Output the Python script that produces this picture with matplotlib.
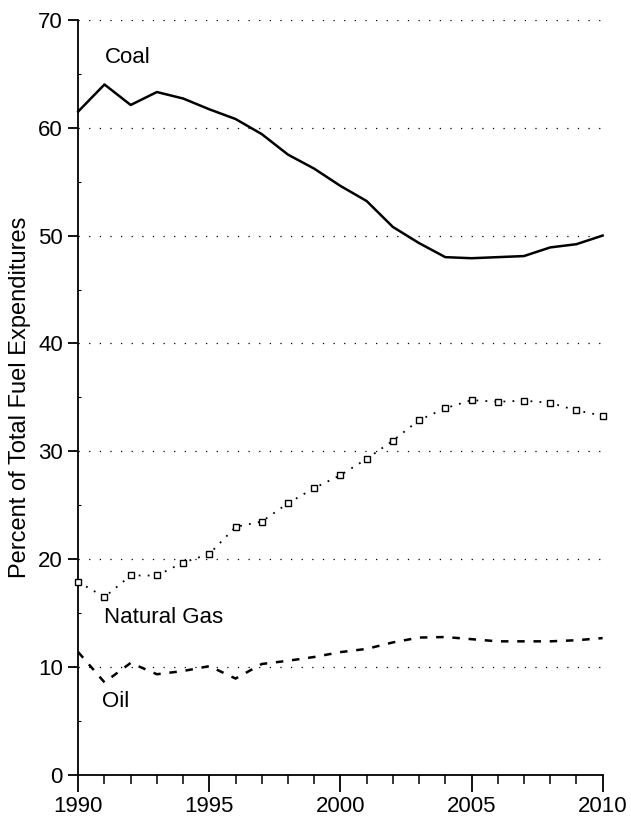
import matplotlib.pyplot as plt
from matplotlib.ticker import MultipleLocator

plt.rcParams["font.family"] = ["Liberation Sans", "DejaVu Sans"]

years = list(range(1990, 2011))
coal = [61.5, 64.0, 62.1, 63.3, 62.7, 61.7, 60.8, 59.4, 57.5, 56.2, 54.6,
        53.2, 50.8, 49.3, 48.0, 47.9, 48.0, 48.1, 48.9, 49.2, 50.0]
gas = [17.9, 16.5, 18.5, 18.5, 19.7, 20.5, 23.0, 23.5, 25.2, 26.6, 27.8,
       29.3, 31.0, 32.9, 34.0, 34.75, 34.6, 34.7, 34.5, 33.8, 33.3]
oil = [11.4, 8.6, 10.4, 9.35, 9.65, 10.1, 8.95, 10.3, 10.6, 10.95, 11.4,
       11.7, 12.3, 12.75, 12.8, 12.6, 12.4, 12.4, 12.4, 12.5, 12.7]
y_ticks = [0, 10, 20, 30, 40, 50, 60, 70]
x_ticks = [1990, 1995, 2000, 2005, 2010]

fig = plt.figure(figsize=(6.31, 8.22), dpi=100)
ax = fig.add_axes([0.124, 0.057, 0.831, 0.919])

ax.plot(years, coal, color="black", lw=1.8, clip_on=False, zorder=3)
ax.plot(years, gas, color="black", lw=1.3, ls=(0, (1, 4)), marker="s",
        ms=4, mfc="white", mec="black", mew=1.0, clip_on=False, zorder=3)
ax.plot(years, oil, color="black", lw=1.8, ls=(0, (3, 3.5)), clip_on=False, zorder=3)

ax.text(1991.0, 66.5, "Coal", fontsize=16, va="center", ha="left")
ax.text(1991.0, 14.6, "Natural Gas", fontsize=16, va="center", ha="left")
ax.text(1990.9, 6.8, "Oil", fontsize=16, va="center", ha="left")

ax.set_xlim(1990, 2010)
ax.set_ylim(0, 70)
ax.set_xticks(x_ticks)
ax.set_yticks(y_ticks)
ax.xaxis.set_minor_locator(MultipleLocator(1))
ax.yaxis.set_minor_locator(MultipleLocator(5))

for y in y_ticks[1:]:
    ax.axhline(y, color="black", lw=0.9, ls=(0, (1, 7.5)), zorder=1)

ax.spines["top"].set_visible(False)
ax.spines["right"].set_visible(False)
ax.spines["left"].set_linewidth(1.3)
ax.spines["bottom"].set_linewidth(1.3)

ax.tick_params(axis="x", which="major", direction="out", length=12, width=1.3,
               pad=3, labelsize=16)
ax.tick_params(axis="x", which="minor", direction="out", length=6.5, width=1.1)
ax.tick_params(axis="y", which="major", direction="out", length=7.5, width=1.3,
               pad=3.5, labelsize=16)
ax.tick_params(axis="y", which="minor", direction="in", length=2.5, width=0.8)

ax.set_ylabel("Percent of Total Fuel Expenditures", fontsize=17)
ax.yaxis.set_label_coords(-0.09, 0.5)

fig.savefig("out.png", dpi=100)
